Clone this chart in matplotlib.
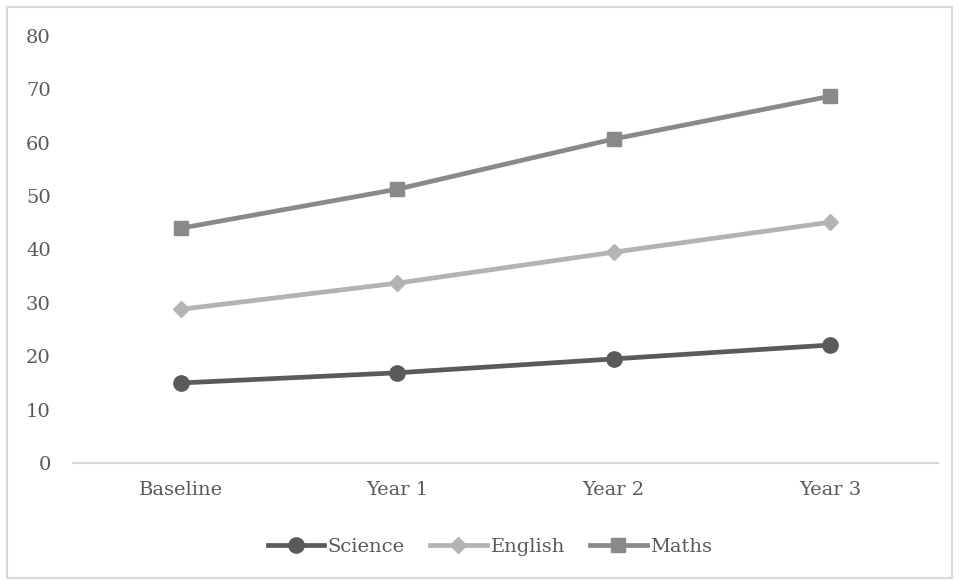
import matplotlib.pyplot as plt
from matplotlib.patches import Rectangle

categories = ['Baseline', 'Year 1', 'Year 2', 'Year 3']
science = [15.0, 16.9, 19.5, 22.1]
english = [28.8, 33.7, 39.5, 45.1]
maths = [44.0, 51.3, 60.7, 68.7]
y_ticks = [0, 10, 20, 30, 40, 50, 60, 70, 80]

plt.rcParams['font.family'] = ['DejaVu Serif']

fig = plt.figure(figsize=(9.59, 5.84), dpi=100)
ax = fig.add_axes([73 / 959, 1 - 463 / 584, 865 / 959, 427 / 584])

x = list(range(len(categories)))
ax.plot(x, science, color='#5a5a5a', linewidth=3.4, marker='o', markersize=11, label='Science')
ax.plot(x, english, color='#b3b3b3', linewidth=3.4, marker='D', markersize=8, label='English')
ax.plot(x, maths, color='#898989', linewidth=3.4, marker='s', markersize=10, label='Maths')

ax.set_xlim(-0.5, 3.5)
ax.set_ylim(0, 80)
ax.set_yticks(y_ticks)
ax.set_xticks(x)
ax.set_xticklabels(categories)

for s in ['top', 'right', 'left']:
    ax.spines[s].set_visible(False)
ax.spines['bottom'].set_color('#d9d9d9')
ax.spines['bottom'].set_linewidth(1.5)
ax.tick_params(axis='both', length=0, labelsize=14, labelcolor='#595959')
ax.tick_params(axis='y', pad=16)
ax.tick_params(axis='x', pad=13)

leg = ax.legend(loc='center', bbox_to_anchor=(490 / 959, 1 - 547 / 584),
                bbox_transform=fig.transFigure, ncol=3, frameon=False,
                fontsize=14, handlelength=2.9, handletextpad=0.2,
                columnspacing=1.3)
for t in leg.get_texts():
    t.set_color('#595959')

fig.patches.append(Rectangle((7 / 959, 6 / 584), 945 / 959, 571 / 584,
                             transform=fig.transFigure, fill=False,
                             edgecolor='#d9d9d9', linewidth=1.5))

fig.savefig('out.png', dpi=100, facecolor='white')
